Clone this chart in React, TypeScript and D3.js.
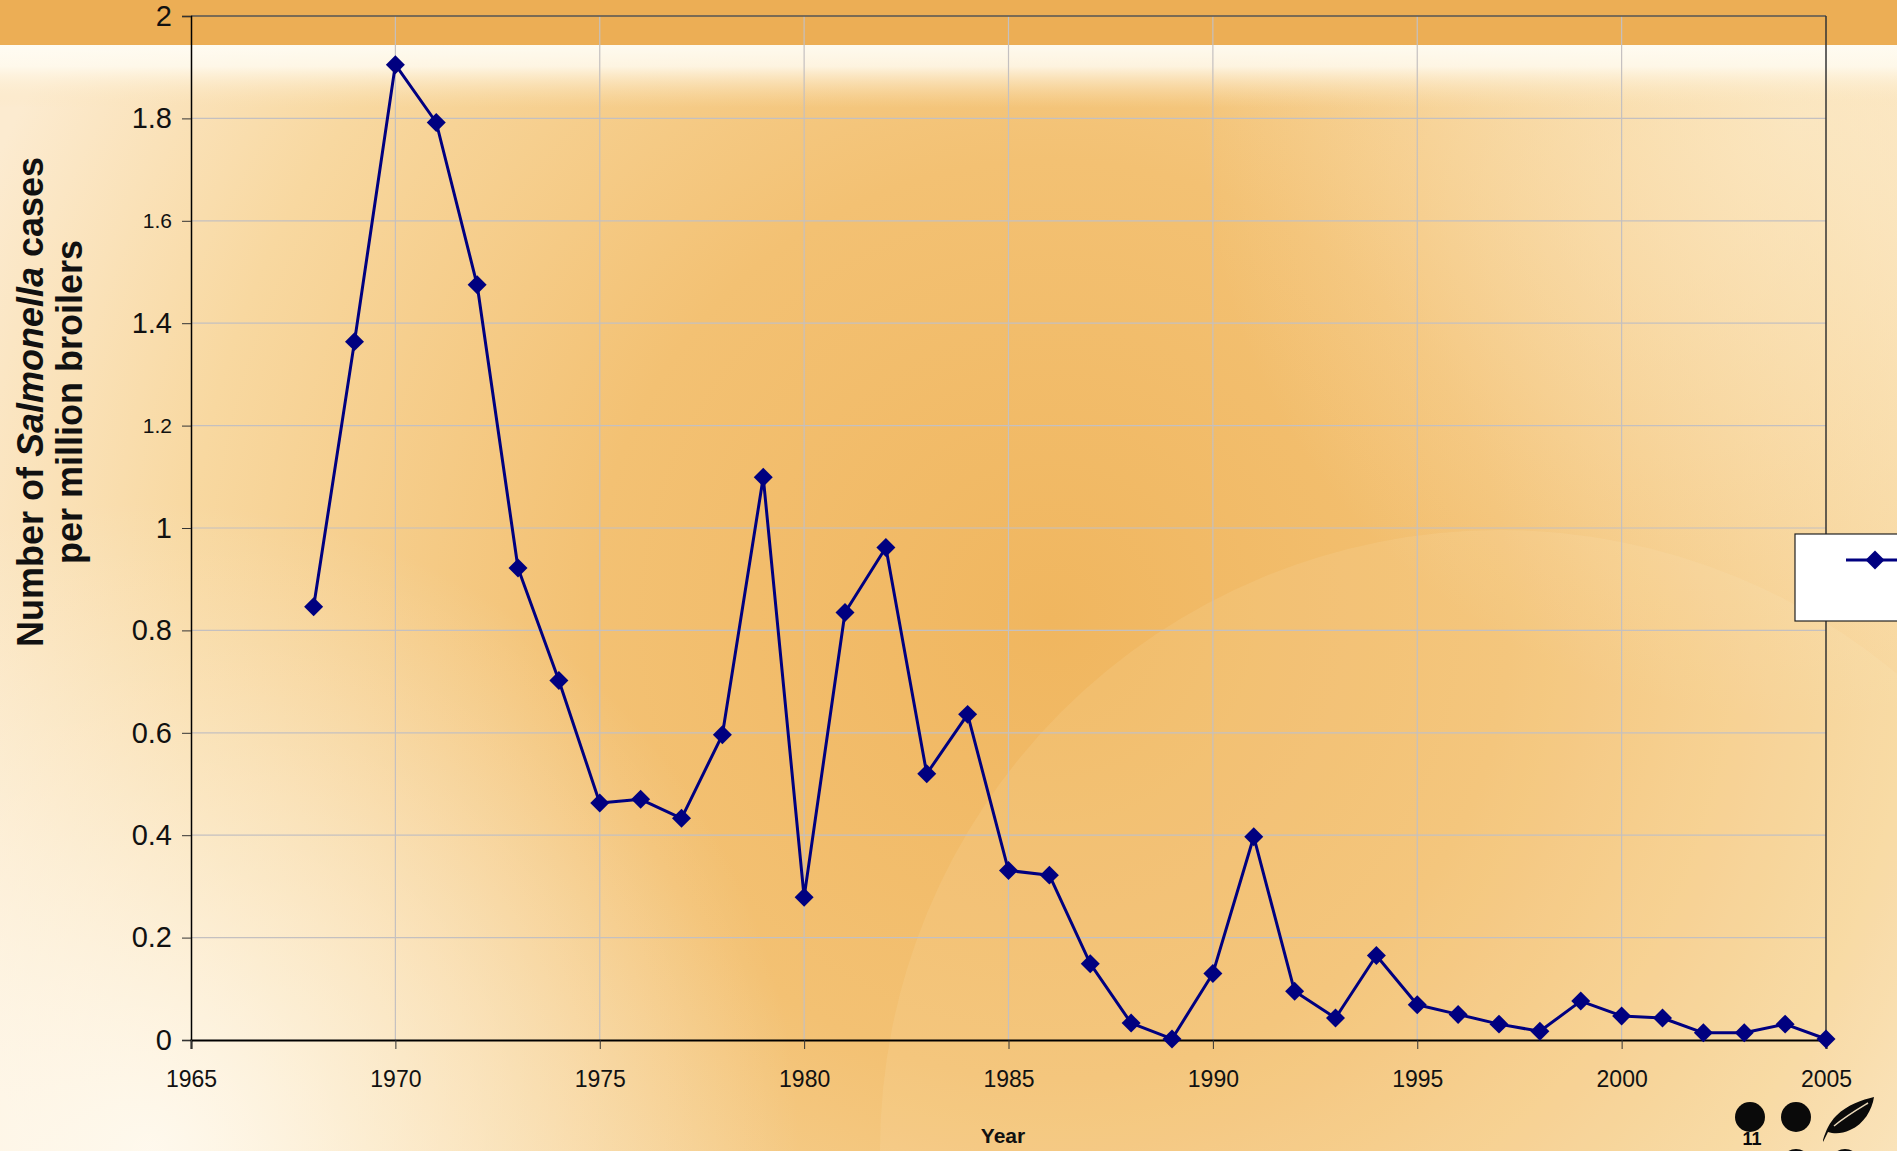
// @ts-nocheck
import React from "react";
import * as d3 from "d3";

// Salmonella cases per million broilers, by year
const years = [
  1968, 1969, 1970, 1971, 1972, 1973, 1974, 1975, 1976, 1977, 1978, 1979, 1980,
  1981, 1982, 1983, 1984, 1985, 1986, 1987, 1988, 1989, 1990, 1991, 1992, 1993,
  1994, 1995, 1996, 1997, 1998, 1999, 2000, 2001, 2002, 2003, 2004, 2005,
];
const cases = [
  0.846, 1.364, 1.905, 1.792, 1.475, 0.922, 0.702, 0.463, 0.47, 0.433, 0.596,
  1.099, 0.279, 0.835, 0.962, 0.52, 0.636, 0.331, 0.322, 0.149, 0.033, 0.002,
  0.13, 0.397, 0.095, 0.043, 0.165, 0.069, 0.05, 0.031, 0.017, 0.076, 0.047,
  0.043, 0.014, 0.014, 0.031, 0.002,
];
const xTicks = [1965, 1970, 1975, 1980, 1985, 1990, 1995, 2000, 2005];
const yTicks = [0, 0.2, 0.4, 0.6, 0.8, 1, 1.2, 1.4, 1.6, 1.8, 2];
const smallYTicks = [1.2, 1.6]; // these two labels are printed smaller in the original

const W = 1897;
const H = 1151;
const FONT = "'Liberation Sans', Arial, sans-serif";

const App = () => {
  const svgRef = React.useRef(null);

  React.useEffect(() => {
    const x = d3.scaleLinear().domain([1965, 2005]).range([191, 1826]);
    const y = d3.scaleLinear().domain([0, 2]).range([1040, 16]);

    const svgEl = d3.select(svgRef.current);
    svgEl.selectAll("*").remove();

    // ---- background (slide template) ----
    const defs = svgEl.append("defs");
    const base = defs.append("radialGradient").attr("id", "bgBase")
      .attr("gradientUnits", "userSpaceOnUse")
      .attr("cx", 1050).attr("cy", 620).attr("r", 1150);
    base.append("stop").attr("offset", 0).attr("stop-color", "#F0B65F");
    base.append("stop").attr("offset", 0.4).attr("stop-color", "#F3C173");
    base.append("stop").attr("offset", 0.75).attr("stop-color", "#F8D8A0");
    base.append("stop").attr("offset", 1).attr("stop-color", "#FCEBD0");

    const corner = defs.append("radialGradient").attr("id", "bgCorner")
      .attr("gradientUnits", "userSpaceOnUse")
      .attr("cx", 150).attr("cy", 1151).attr("r", 650);
    corner.append("stop").attr("offset", 0).attr("stop-color", "#FFFBF2").attr("stop-opacity", 0.9);
    corner.append("stop").attr("offset", 1).attr("stop-color", "#FFFBF2").attr("stop-opacity", 0);

    const topRight = defs.append("radialGradient").attr("id", "bgTopRight")
      .attr("gradientUnits", "userSpaceOnUse")
      .attr("cx", 1800).attr("cy", 120).attr("r", 600);
    topRight.append("stop").attr("offset", 0).attr("stop-color", "#FCEBCB").attr("stop-opacity", 0.7);
    topRight.append("stop").attr("offset", 1).attr("stop-color", "#FCEBCB").attr("stop-opacity", 0);

    const stripe = defs.append("linearGradient").attr("id", "bgStripe")
      .attr("x1", 0).attr("y1", 0).attr("x2", 0).attr("y2", 1);
    stripe.append("stop").attr("offset", 0).attr("stop-color", "#FFFDF5").attr("stop-opacity", 0.95);
    stripe.append("stop").attr("offset", 0.35).attr("stop-color", "#FFFBF0").attr("stop-opacity", 0.85);
    stripe.append("stop").attr("offset", 1).attr("stop-color", "#FBE3B8").attr("stop-opacity", 0);

    const bg = svgEl.append("g");
    bg.append("rect").attr("width", W).attr("height", H).attr("fill", "url(#bgBase)");
    bg.append("rect").attr("width", W).attr("height", H).attr("fill", "url(#bgCorner)");
    bg.append("rect").attr("width", W).attr("height", H).attr("fill", "url(#bgTopRight)");
    // big soft circle in the lower right
    bg.append("circle").attr("cx", 1500).attr("cy", 1150).attr("r", 620)
      .attr("fill", "#FFF3DC").attr("opacity", 0.1);
    bg.append("rect").attr("x", 0).attr("y", 44).attr("width", W).attr("height", 64).attr("fill", "url(#bgStripe)");
    bg.append("rect").attr("width", W).attr("height", 45).attr("fill", "#ECAE55");

    // ---- grid ----
    const grid = svgEl.append("g");
    grid.selectAll("line.h").data(yTicks.filter(t => t > 0 && t < 2)).join("line")
      .attr("x1", x(1965)).attr("x2", x(2005))
      .attr("y1", d => y(d)).attr("y2", d => y(d))
      .attr("stroke", "#C4C0C0").attr("stroke-width", 1.2);
    grid.selectAll("line.v").data(xTicks.filter(t => t > 1965 && t < 2005)).join("line")
      .attr("x1", d => x(d)).attr("x2", d => x(d))
      .attr("y1", y(2)).attr("y2", y(0))
      .attr("stroke", "#C4C0C0").attr("stroke-width", 1.2);
    // top and right border of the plot area
    grid.append("line").attr("x1", x(1965)).attr("x2", x(2005)).attr("y1", y(2)).attr("y2", y(2))
      .attr("stroke", "#555").attr("stroke-width", 1.5);
    grid.append("line").attr("x1", x(2005)).attr("x2", x(2005)).attr("y1", y(2)).attr("y2", y(0))
      .attr("stroke", "#333").attr("stroke-width", 1.5);

    // ---- axes ----
    const yAxis = svgEl.append("g").attr("transform", `translate(${x(1965)},0)`)
      .call(d3.axisLeft(y).tickValues(yTicks).tickSize(9).tickPadding(10)
        .tickFormat(d => d3.format("~g")(d)));
    yAxis.select(".domain").attr("stroke", "#000").attr("stroke-width", 1.5);
    yAxis.selectAll(".tick line").attr("stroke", "#333");
    yAxis.selectAll("text")
      .attr("font-family", FONT).attr("fill", "#111")
      .attr("font-size", d => (smallYTicks.includes(d) ? 21 : 29));

    const xAxis = svgEl.append("g").attr("transform", `translate(0,${y(0)})`)
      .call(d3.axisBottom(x).tickValues(xTicks).tickSize(9).tickPadding(22)
        .tickFormat(d3.format("d")));
    xAxis.select(".domain").attr("stroke", "#000").attr("stroke-width", 2);
    xAxis.selectAll(".tick line").attr("stroke", "#333");
    xAxis.selectAll("text").attr("font-family", FONT).attr("font-size", 23).attr("fill", "#111");

    // ---- axis titles ----
    svgEl.append("text").attr("x", 1003).attr("y", 1143).attr("text-anchor", "middle")
      .attr("font-family", FONT).attr("font-weight", "bold").attr("font-size", 21)
      .attr("fill", "#111").text("Year");

    const yTitle = svgEl.append("text")
      .attr("transform", "translate(0,402) rotate(-90)")
      .attr("text-anchor", "middle")
      .attr("font-family", FONT).attr("font-weight", "bold").attr("font-size", 36).attr("fill", "#111");
    const l1 = yTitle.append("tspan").attr("x", 0).attr("y", 43);
    l1.append("tspan").text("Number of ");
    l1.append("tspan").attr("font-style", "italic").text("Salmonella");
    l1.append("tspan").text(" cases");
    yTitle.append("tspan").attr("x", 0).attr("y", 82).text("per million broilers");

    // ---- series ----
    const pts = years.map((yr, i) => [yr, cases[i]]);
    svgEl.append("path").datum(pts)
      .attr("fill", "none").attr("stroke", "#000080").attr("stroke-width", 3)
      .attr("stroke-linejoin", "round")
      .attr("d", d3.line().x(d => x(d[0])).y(d => y(d[1])));

    const diamond = d3.symbol(d3.symbolSquare, 180);
    svgEl.append("g").selectAll("path").data(pts).join("path")
      .attr("transform", d => `translate(${x(d[0])},${y(d[1])}) rotate(45)`)
      .attr("d", diamond).attr("fill", "#000080");

    // ---- legend (cut off at the right edge) ----
    const lg = svgEl.append("g");
    lg.append("rect").attr("x", 1795).attr("y", 534).attr("width", 120).attr("height", 87)
      .attr("fill", "#fff").attr("stroke", "#222").attr("stroke-width", 1.2);
    lg.append("line").attr("x1", 1846).attr("x2", W).attr("y1", 560).attr("y2", 560)
      .attr("stroke", "#000080").attr("stroke-width", 3);
    lg.append("path").attr("transform", "translate(1875,560) rotate(45)")
      .attr("d", diamond).attr("fill", "#000080");

    // ---- template logo, bottom right ----
    const logo = svgEl.append("g").attr("fill", "#0a0a0a");
    [[1750, 1117], [1796, 1117], [1796, 1164], [1845, 1164]].forEach(([cx, cy]) => {
      logo.append("circle").attr("cx", cx).attr("cy", cy).attr("r", 15);
    });
    logo.append("path")
      .attr("d", "M1823,1140 C1826,1130 1830,1122 1836,1116 C1848,1104 1862,1100 1874,1097 C1872,1110 1864,1124 1850,1130 C1842,1134 1834,1134 1828,1132 L1823,1142 Z");
    logo.append("path").attr("d", "M1834,1126 C1846,1116 1858,1109 1868,1103")
      .attr("fill", "none").attr("stroke", "#E8D7B8").attr("stroke-width", 1.5);
    logo.append("text").attr("x", 1752).attr("y", 1145).attr("text-anchor", "middle")
      .attr("font-family", FONT).attr("font-weight", "bold").attr("font-size", 18).text("11");
  }, []);

  return (
    <svg ref={svgRef} width={W} height={H}
      style={{ position: "absolute", left: 0, top: 0, display: "block" }} />
  );
};

export default App;
